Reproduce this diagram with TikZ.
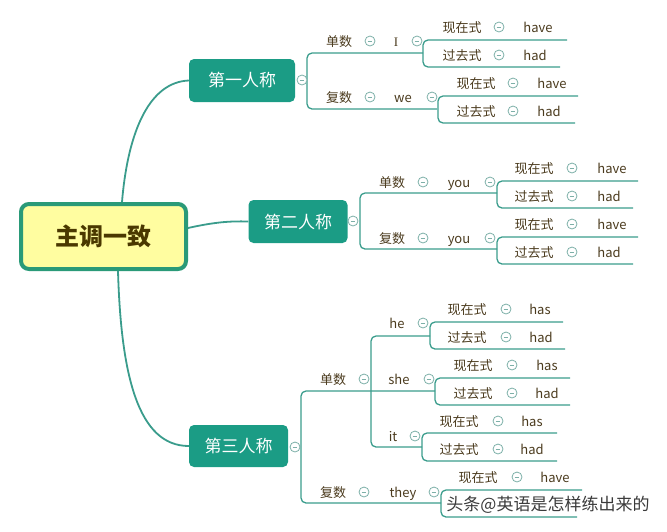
\documentclass[tikz,border=0pt]{standalone}
\usepackage{fontspec}
\setmainfont{Noto Sans CJK SC}
\newfontfamily\serifI{Liberation Serif}
\definecolor{linec}{HTML}{3A9C8C}
\definecolor{nodec}{HTML}{1B9C85}
\definecolor{centb}{HTML}{2A9A78}
\definecolor{centf}{HTML}{FFFDA0}
\definecolor{centt}{HTML}{4A3800}
\definecolor{leafc}{HTML}{4B3B1E}
\definecolor{circc}{HTML}{7DB0A8}
\definecolor{wmc}{HTML}{3A3A3A}
\newcommand\T[4]{\node[lf] (#1) at (#2,#3+5) {#4};}
\newcommand\C[3]{\node[colc] (#1) at (#2,#3) {};}
\begin{document}
\begin{tikzpicture}[x=1pt,y=-1pt,
  lf/.style={anchor=base,inner sep=0pt,font=\fontsize{13pt}{15pt}\selectfont,text=leafc},
  colc/.style={circle,draw=circc,line width=0.8pt,minimum size=10pt,inner sep=0pt,fill=white,
     path picture={\draw[circc,line width=0.8pt] ([xshift=2.6pt]path picture bounding box.west) -- ([xshift=-2.6pt]path picture bounding box.east);}},
  br/.style={draw=linec,line width=1.3pt,rounded corners=5pt},
  mainln/.style={draw=linec,line width=1.8pt},
  bnode/.style={fill=nodec,rounded corners=5pt,text=white,font=\fontsize{17pt}{20pt}\selectfont,minimum height=43pt,inner sep=0pt},
]
\useasboundingbox (0,0) rectangle (667,531);

% central and branch nodes
\node[draw=centb,line width=4pt,fill=centf,rounded corners=8pt,minimum width=165pt,minimum height=65pt,
  font=\fontsize{24pt}{28pt}\selectfont\bfseries,text=centt] (c) at (103.5,236.5) {主调一致};
\node[bnode,minimum width=106pt] (b1) at (242,80.5) {第一人称};
\node[bnode,minimum width=99pt] (b2) at (298,221.5) {第二人称};
\node[bnode,minimum width=99pt,minimum height=42pt] (b3) at (238.5,446) {第三人称};

\draw[mainln] ([xshift=18.5pt]c.north) .. controls (128,130) and (150,82) .. (b1.west);
\draw[mainln] ([yshift=8.5pt]c.east) .. controls (215,222) and (230,221) .. (b2.west);
\draw[mainln] ([xshift=14.5pt]c.south) .. controls (121,375) and (138,446) .. (b3.west);

% ---------- first person ----------
\draw[br] (423,53) -- (307,53) -- (307,109) -- (437,109);
\draw[br] (567,40) -- (423,40) -- (423,67) -- (560,67);
\draw[br] (578,96) -- (438,96) -- (438,123) -- (575,123);
\C{c1}{302}{80}
\T{s1}{339}{41}{单数}\C{s1c}{370}{41}\T{i}{396}{41}{\serifI I}\C{ic}{417}{41}
\T{i1}{462}{27}{现在式}\C{i1c}{499}{27}\T{i1w}{538}{27}{have}
\T{i2}{462}{55}{过去式}\C{i2c}{499}{55}\T{i2w}{535}{55}{had}
\T{p1}{339}{97}{复数}\C{p1c}{370}{97}\T{we}{403}{97}{we}\C{wec}{432}{97}
\T{w1}{476}{83}{现在式}\C{w1c}{513}{83}\T{w1w}{552}{83}{have}
\T{w2}{476}{111}{过去式}\C{w2c}{513}{111}\T{w2w}{549}{111}{had}

% ---------- second person ----------
\draw[br] (497,193) -- (360,193) -- (360,249) -- (497,249);
\draw[br] (638,181) -- (497,181) -- (497,208) -- (633,208);
\draw[br] (638,237) -- (497,237) -- (497,264) -- (633,264);
\C{c2}{353}{221}
\T{s2}{392}{182}{单数}\C{s2c}{423}{182}\T{ya}{459}{182}{you}\C{yac}{490}{182}
\T{ya1}{534}{168}{现在式}\C{ya1c}{572}{168}\T{ya1w}{612}{168}{have}
\T{ya2}{534}{196}{过去式}\C{ya2c}{572}{196}\T{ya2w}{609}{196}{had}
\T{p2}{392}{238}{复数}\C{p2c}{423}{238}\T{yb}{459}{238}{you}\C{ybc}{490}{238}
\T{yb1}{534}{224}{现在式}\C{yb1c}{572}{224}\T{yb1w}{612}{224}{have}
\T{yb2}{534}{252}{过去式}\C{yb2c}{572}{252}\T{yb2w}{609}{252}{had}

% ---------- third person ----------
\draw[br] (435,391) -- (301,391) -- (301,503) -- (441,503);
\draw[br] (430,336) -- (371,336) -- (371,447) -- (422,447);
\draw[br] (563,322) -- (430,322) -- (430,349) -- (565,349);
\draw[br] (570,378) -- (435,378) -- (435,405) -- (570,405);
\draw[br] (557,433) -- (422,433) -- (422,461) -- (557,461);
\draw[br] (582,490) -- (441,490) -- (441,517) -- (577,517);
\C{c3}{295}{447}
\T{s3}{333}{379}{单数}\C{s3c}{364}{379}
\T{he}{397}{323}{he}\C{hec}{423}{323}
\T{he1}{467}{309}{现在式}\C{he1c}{506}{309}\T{he1w}{540}{309}{has}
\T{he2}{467}{337}{过去式}\C{he2c}{506}{337}\T{he2w}{541}{337}{had}
\T{she}{399}{379}{she}\C{shec}{429}{379}
\T{sh1}{473}{365}{现在式}\C{sh1c}{512}{365}\T{sh1w}{547}{365}{has}
\T{sh2}{473}{393}{过去式}\C{sh2c}{512}{393}\T{sh2w}{547}{393}{had}
\T{it}{393}{436}{it}\C{itc}{415}{436}
\T{it1}{459}{421}{现在式}\C{it1c}{498}{421}\T{it1w}{532}{421}{has}
\T{it2}{459}{449}{过去式}\C{it2c}{498}{449}\T{it2w}{532}{449}{had}
\T{p3}{333}{492}{复数}\C{p3c}{364}{492}\T{th}{403}{492}{they}\C{thc}{434}{492}
\T{th1}{478}{477}{现在式}\C{th1c}{517}{477}\T{th1w}{555}{477}{have}

% watermark
\node[font=\fontsize{17pt}{20pt}\selectfont,text=wmc,inner sep=1pt] (wm) at (548,505) {头条@英语是怎样练出来的};
\end{tikzpicture}
\end{document}
